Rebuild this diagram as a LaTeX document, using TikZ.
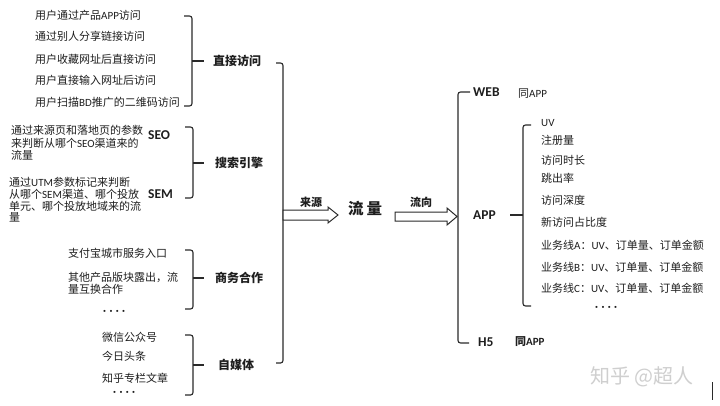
\documentclass[tikz,border=0pt]{standalone}
\usepackage{fontspec}
\setmainfont{Noto Sans CJK SC}
\newfontfamily\lat{Carlito}
\newcommand\la[1]{{\lat #1}}
\definecolor{txt}{HTML}{1E1E1E}
\definecolor{ln}{HTML}{2A2A2A}
\definecolor{wm}{HTML}{CFCFCF}
\newcommand\dotsrow{{\lat\bfseries ·\hspace{3.4pt}·\hspace{3.4pt}·\hspace{3.4pt}·}}
\tikzset{
  item/.style={anchor=base west, inner sep=0pt, font=\fontsize{11}{13}\selectfont, text=txt},
  lbl/.style={anchor=base west, inner sep=0pt, font=\fontsize{12}{14}\selectfont\bfseries, text=txt},
  tag/.style={anchor=base west, inner sep=0pt, font=\fontsize{13.5}{15}\selectfont\bfseries\lat, text=txt},
  brk/.style={draw=ln, line width=1.1pt, rounded corners=2.5pt},
  hollow/.style={draw=ln, line width=1pt, fill=white, line join=miter},
}
\begin{document}
\begin{tikzpicture}[x=1pt,y=-1pt]
\useasboundingbox[fill=white] (0,0) rectangle (720,405);

% ---------- direct access ----------
\node[item] (d1) at (35,19.5) {用户通过产品\la{APP}访问};
\node[item] (d2) at (35,40.5) {通过别人分享链接访问};
\node[item] (d3) at (35,63) {用户收藏网址后直接访问};
\node[item] (d4) at (35,84.5) {用户直接输入网址后访问};
\node[item] (d5) at (35,106.5) {用户扫描\la{BD}推广的二维码访问};
\node[lbl] (gd) at (213,65.5) {直接访问};
\draw[brk] (184,16) -- (192,16) -- (192,106) -- (184,106);
\draw[brk] (192,61) -- (204,61);

% ---------- search ----------
\node[item] (s1) at (11,134.5) {通过来源页和落地页的参数};
\node[item] (s2) at (11,147) {来判断从哪个\la{SEO}渠道来的};
\node[item] (s3) at (11,159) {流量};
\node[tag] (seo) at (148,139.5) {SEO};
\node[item] (m1) at (9,186.5) {通过\la{UTM}参数标记来判断};
\node[item] (m2) at (9,198.5) {从哪个\la{SEM}渠道、哪个投放};
\node[item] (m3) at (9,210.5) {单元、哪个投放地域来的流};
\node[item] (m4) at (9,221.5) {量};
\node[tag] (sem) at (148,198) {SEM};
\node[lbl] (gs) at (215,167.5) {搜索引擎};
\draw[brk] (185,127) -- (193,127) -- (193,198) -- (185,198);
\draw[brk] (193,163) -- (204,163);

% ---------- business ----------
\node[item] (b1) at (68,257.5) {支付宝城市服务入口};
\node[item] (b2) at (68,281) {其他产品版块露出，流};
\node[item] (b3) at (68,293) {量互换合作};
\node[item] (b4) at (103,314) {\dotsrow};
\node[lbl] (gb) at (215,282.5) {商务合作};
\draw[brk] (185,250) -- (193,250) -- (193,309) -- (185,309);
\draw[brk] (193,278) -- (204,278);

% ---------- self media ----------
\node[item] (w1) at (102,341) {微信公众号};
\node[item] (w2) at (102,360) {今日头条};
\node[item] (w3) at (102,382) {知乎专栏文章};
\node[item] (w4) at (113,395) {\dotsrow};
\node[lbl] (gw) at (218,369.5) {自媒体};
\draw[brk] (185,335) -- (193,335) -- (193,395) -- (185,395);
\draw[brk] (193,365) -- (204,365);

% ---------- big bracket ----------
\coordinate (bt) at (283,63);
\coordinate (bb) at (283,363);
\draw[brk] (276,63) -- (bt) -- (bb) -- (276,363);

% ---------- arrows ----------
\node[lbl, font=\fontsize{11}{13}\selectfont\bfseries] (ly) at (300,206) {来源};
\node[lbl, font=\fontsize{15.5}{17}\selectfont\bfseries] (ll) at (348,214) {流\hspace{3pt}量};
\node[lbl, font=\fontsize{11}{13}\selectfont\bfseries] (lx) at (410,206) {流向};
\draw[hollow] (283,210) -- (328,210) -- (328,207) -- (338,215) -- (328,223) -- (328,220) -- (283,220) -- cycle;
\draw[hollow] (395,212) -- (447,212) -- (447,208) -- (457,216.5) -- (447,225) -- (447,221) -- (395,221) -- cycle;

% ---------- right bracket ----------
\draw[brk] (470,92) -- (458,92) -- (458,343) -- (469,343);
\node[tag] (web) at (473,96.5) {WEB};
\node[tag] (app) at (473,219) {APP};
\node[tag] (h5) at (478,346) {H5};
\node[item] (webs) at (518,97) {同\la{APP}};
\node[item, font=\fontsize{11}{13}\selectfont\bfseries] (h5s) at (515,345.5) {同\la{APP}};

% ---------- app metrics ----------
\draw[brk] (510,215) -- (523,215);
\draw[brk] (531,125) -- (523,125) -- (523,306) -- (531,306);
\node[item] (a1) at (541,126.5) {\la{UV}};
\node[item] (a2) at (541,144.5) {注册量};
\node[item] (a3) at (541,164) {访问时长};
\node[item] (a4) at (541,182) {跳出率};
\node[item] (a5) at (541,204) {访问深度};
\node[item] (a6) at (541,226) {新访问占比度};
\node[item] (a7) at (541,249) {业务线\la{A}：\la{UV}、订单量、订单金额};
\node[item] (a8) at (541,271) {业务线\la{B}：\la{UV}、订单量、订单金额};
\node[item] (a9) at (541,292.5) {业务线\la{C}：\la{UV}、订单量、订单金额};
\node[item] (a10) at (595,310) {\dotsrow};

% ---------- watermark ----------
\node[anchor=base west, inner sep=0pt, font=\fontsize{20}{22}\selectfont, text=wm] (wmk) at (590,383) {知乎 @超人};
\draw[ln, line width=0.8pt] (712,382) -- (712,400);
\end{tikzpicture}
\end{document}
